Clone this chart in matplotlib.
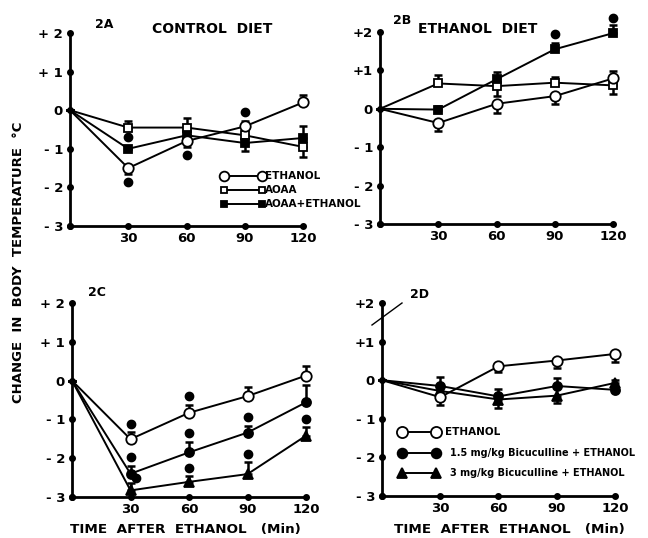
import matplotlib
matplotlib.use("Agg")
import matplotlib.pyplot as plt
import numpy as np

plt.rcParams['font.family'] = ['DejaVu Sans']

times = [0, 30, 60, 90, 120]
y_ticks = [2, 1, 0, -1, -2, -3]
y_ticklabels_left = ["+ 2", "+ 1", "0", "- 1", "- 2", "- 3"]
y_ticklabels_right = ["+2", "+1", "0", "- 1", "- 2", "- 3"]
x_ticklabels = ["30", "60", "90", "120"]

# Panel 2A - control diet
a_ethanol = [0, -1.5, -0.8, -0.42, 0.2]
a_ethanol_err = [0, -0.15, -0.15, 0.15, 0.2]
a_aoaa = [0, -0.45, -0.45, -0.65, -0.95]
a_aoaa_err = [0, 0.17, 0.25, 0.0, -0.25]
a_aoaa_eth = [0, -1.0, -0.65, -0.85, -0.72]
a_aoaa_eth_err = [0, 0.0, 0.0, -0.2, 0.3]
a_sig_x = [30, 30, 60, 90]
a_sig_y = [-1.87, -0.7, -1.16, -0.05]

# Panel 2B - ethanol diet
b_ethanol = [0, -0.37, 0.13, 0.33, 0.79]
b_ethanol_err = [0, -0.22, -0.23, -0.2, 0.19]
b_aoaa = [0, 0.66, 0.59, 0.68, 0.61]
b_aoaa_err = [0, 0.23, -0.26, 0.16, -0.23]
b_aoaa_eth = [0, -0.02, 0.77, 1.55, 1.97]
b_aoaa_eth_err = [0, 0.1, 0.19, 0.17, 0.2]
b_sig_x = [90, 120]
b_sig_y = [1.96, 2.37]

# Panel 2C
c_ethanol = [0, -1.51, -0.83, -0.40, 0.13]
c_ethanol_err = [0, 0.19, 0.2, 0.24, 0.25]
c_bic15 = [0, -2.4, -1.85, -1.34, -0.56]
c_bic15_err = [0, 0.2, 0.28, 0.18, 0.45]
c_bic3 = [0, -2.83, -2.61, -2.41, -1.42]
c_bic3_err = [0, 0.2, 0.15, 0.3, 0.23]
c_sig_x = [30, 30, 33, 60, 60, 60, 90, 90, 120]
c_sig_y = [-1.12, -1.97, -2.52, -0.4, -1.34, -2.25, -0.95, -1.9, -0.99]

# Panel 2D
d_ethanol = [0, -0.44, 0.36, 0.51, 0.68]
d_ethanol_err = [0, -0.19, -0.15, -0.2, -0.2]
d_bic15 = [0, -0.15, -0.42, -0.15, -0.25]
d_bic15_err = [0, 0.24, 0.2, 0.2, 0.25]
d_bic3 = [0, -0.28, -0.5, -0.4, -0.07]
d_bic3_err = [0, -0.2, -0.22, -0.2, -0.2]

fig = plt.figure(figsize=(6.48, 5.38), dpi=100)

def px_axes(l, r, t, b):
    W, H = 648.0, 538.0
    return fig.add_axes([l / W, 1 - b / H, (r - l) / W, (b - t) / H])

LW = 1.4
FS = 9

def setup(ax, ylabels):
    ax.set_xlim(0, 120)
    ax.set_ylim(-3, 2)
    for s in ["top", "right"]:
        ax.spines[s].set_visible(False)
    for s in ["left", "bottom"]:
        ax.spines[s].set_linewidth(2.0)
    ax.set_xticks([30, 60, 90, 120])
    ax.set_xticklabels(x_ticklabels, fontsize=FS + 0.5, fontweight="bold")
    ax.set_yticks(y_ticks)
    ax.set_yticklabels(ylabels, fontsize=FS + 0.5, fontweight="bold")
    ax.tick_params(axis="both", length=0)
    ax.tick_params(axis="x", pad=4)
    ax.tick_params(axis="y", pad=5)
    ax.patch.set_alpha(0)
    ax.plot([0] * len(y_ticks), y_ticks, "o", color="black", ms=4, clip_on=False, zorder=5)
    ax.plot(times, [-3] * len(times), "o", color="black", ms=4, clip_on=False, zorder=5)

def series(ax, y, err, marker, filled, ms):
    e = np.array(err, dtype=float)
    lower = np.where(e < 0, -e, 0)
    upper = np.where(e > 0, e, 0)
    ax.errorbar(times, y, yerr=[lower, upper], fmt="none", ecolor="black",
                elinewidth=1.8, capsize=3, capthick=1.8, clip_on=False, zorder=3)
    ax.plot(times, y, "-", color="black", lw=LW, clip_on=False, zorder=3)
    ax.plot(times[1:], y[1:], marker, ms=ms, mec="black", mew=1.3,
            mfc="black" if filled else "white", clip_on=False, zorder=4, ls="none")

def sig(ax, xs, ys):
    ax.plot(xs, ys, "o", color="black", ms=6, clip_on=False, zorder=4)

# Panel A
axA = px_axes(70, 303, 33, 226)
setup(axA, y_ticklabels_left)
series(axA, a_aoaa, a_aoaa_err, "s", False, 6)
series(axA, a_aoaa_eth, a_aoaa_eth_err, "s", True, 6)
series(axA, a_ethanol, a_ethanol_err, "o", False, 7.5)
sig(axA, a_sig_x, a_sig_y)

# Panel B
axB = px_axes(380, 613, 32, 224)
setup(axB, y_ticklabels_right)
series(axB, b_aoaa, b_aoaa_err, "s", False, 6)
series(axB, b_aoaa_eth, b_aoaa_eth_err, "s", True, 6)
series(axB, b_ethanol, b_ethanol_err, "o", False, 7.5)
sig(axB, b_sig_x, b_sig_y)

# Panel C
axC = px_axes(72, 306, 303, 497)
setup(axC, y_ticklabels_left)
series(axC, c_bic3, c_bic3_err, "^", True, 6.5)
series(axC, c_bic15, c_bic15_err, "o", True, 6.5)
series(axC, c_ethanol, c_ethanol_err, "o", False, 7.5)
sig(axC, c_sig_x, c_sig_y)

# Panel D
axD = px_axes(382, 615, 303, 496)
setup(axD, y_ticklabels_right)
series(axD, d_bic3, d_bic3_err, "^", True, 6.5)
series(axD, d_bic15, d_bic15_err, "o", True, 6.5)
series(axD, d_ethanol, d_ethanol_err, "o", False, 7.5)

W, H = 648.0, 538.0
def ftext(x, y, s, **kw):
    fig.text(x / W, 1 - y / H, s, **kw)

ftext(95, 24, "2A", fontsize=FS, fontweight="bold", va="center")
ftext(212, 29, "CONTROL  DIET", fontsize=FS + 1, fontweight="bold", ha="center", va="center")
ftext(393, 20, "2B", fontsize=FS, fontweight="bold", va="center")
ftext(478, 29, "ETHANOL  DIET", fontsize=FS + 1, fontweight="bold", ha="center", va="center")
ftext(88, 292, "2C", fontsize=FS, fontweight="bold", va="center")
ftext(410, 295, "2D", fontsize=FS, fontweight="bold", va="center")

# slash on 2D axis
fig.add_artist(plt.Line2D([372 / W, 402 / W], [1 - 325 / H, 1 - 303 / H], color="black", lw=1.0))

ftext(19, 262, "CHANGE  IN  BODY  TEMPERATURE  \u00b0C", fontsize=FS + 0.5, fontweight="bold",
      rotation=90, ha="center", va="center")
ftext(185, 530, "TIME  AFTER  ETHANOL   (Min)", fontsize=FS + 0.7, fontweight="bold", ha="center", va="center")
ftext(509, 530, "TIME  AFTER  ETHANOL   (Min)", fontsize=FS + 0.7, fontweight="bold", ha="center", va="center")

def leg_row(x0, x1, y, marker, filled, ms, label, tx, fs):
    fig.add_artist(plt.Line2D([x0 / W, x1 / W], [1 - y / H, 1 - y / H], color="black", lw=LW,
                              marker=marker, ms=ms, mec="black", mew=1.3,
                              mfc="black" if filled else "white"))
    ftext(tx, y, label, fontsize=fs, fontweight="bold", va="center")

leg_row(224, 262, 176, "o", False, 7, "ETHANOL", 265, 7.5)
leg_row(224, 262, 190, "s", False, 5, "AOAA", 265, 7.5)
leg_row(224, 262, 204, "s", True, 5, "AOAA+ETHANOL", 265, 7.5)

leg_row(402, 436, 432, "o", False, 8, "ETHANOL", 445, 7.5)
leg_row(402, 436, 453, "o", True, 7, "1.5 mg/kg Bicuculline + ETHANOL", 450, 7)
leg_row(402, 436, 473, "^", True, 6.5, "3 mg/kg Bicuculline + ETHANOL", 450, 7)

fig.savefig("out.png", dpi=100)
